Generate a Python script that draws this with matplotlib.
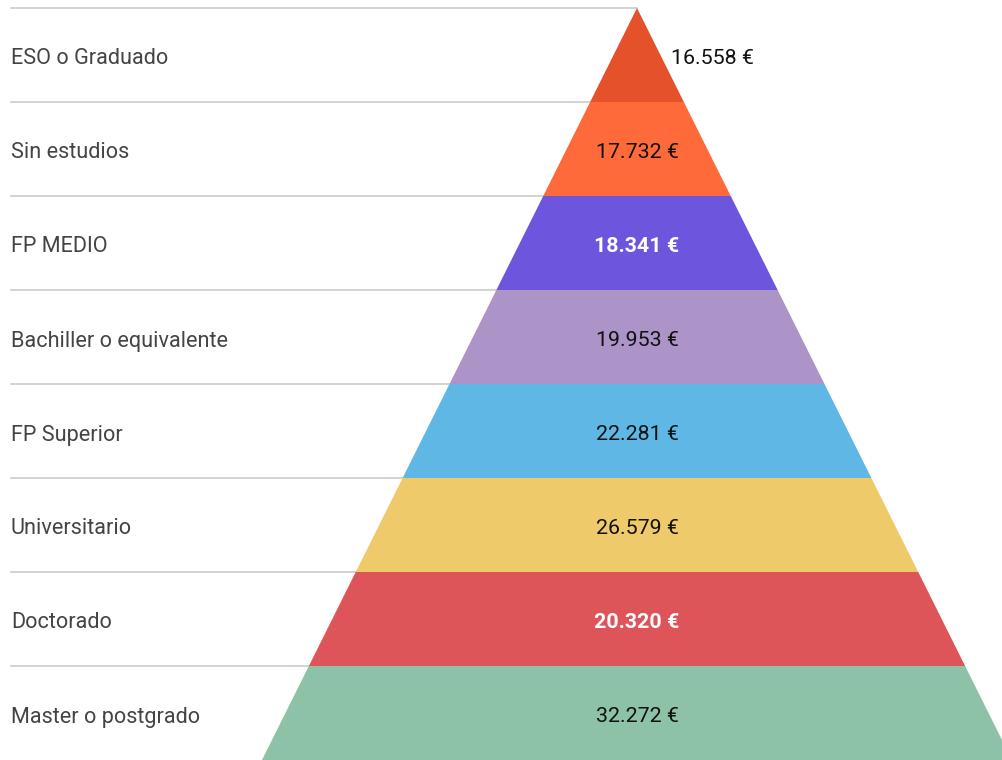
import matplotlib
matplotlib.use("Agg")
import matplotlib.pyplot as plt
from matplotlib.patches import Polygon

categories = ["ESO o Graduado", "Sin estudios", "FP MEDIO", "Bachiller o equivalente",
              "FP Superior", "Universitario", "Doctorado", "Master o postgrado"]
values = [16558, 17732, 18341, 19953, 22281, 26579, 20320, 32272]
value_labels = ["16.558 €", "17.732 €", "18.341 €", "19.953 €",
                "22.281 €", "26.579 €", "20.320 €", "32.272 €"]
colors = ["#E5512A", "#FF6A3A", "#6E55DD", "#AC93C8",
          "#5EB7E5", "#EECA6A", "#DD5558", "#8DC2A7"]
text_colors = ["#111111", "#111111", "#FFFFFF", "#111111",
               "#111111", "#111111", "#FFFFFF", "#111111"]

W, H = 1003, 760
fig = plt.figure(figsize=(W / 100, H / 100), dpi=100)
ax = fig.add_axes([0, 0, 1, 1])
ax.set_xlim(0, W)
ax.set_ylim(H, 0)
ax.axis("off")

apex_x, apex_y = 637.0, 8.0
bottom_y = 760.0
half_bottom = 375.0
n = len(categories)
row_h = (bottom_y - apex_y) / n


def half_w(y):
    return (y - apex_y) * half_bottom / (bottom_y - apex_y)


for i, (cat, lab, col, tc) in enumerate(zip(categories, value_labels, colors, text_colors)):
    y0 = apex_y + i * row_h
    y1 = y0 + row_h
    w0, w1 = half_w(y0), half_w(y1)
    poly = Polygon([(apex_x - w0, y0), (apex_x + w0, y0),
                    (apex_x + w1, y1), (apex_x - w1, y1)],
                   closed=True, facecolor=col, edgecolor="none", zorder=2)
    ax.add_patch(poly)
    ax.plot([11, apex_x - w0], [y0, y0], color="#CCCCCC", lw=1.2, zorder=1)
    yb = (y0 + y1) / 2 + 9.5
    ax.text(11, yb, cat, ha="left", va="baseline", fontsize=15.6, family="Roboto",
            color="#444444", zorder=3)
    if i == 0:
        ax.text(671, yb, lab, ha="left", va="baseline", fontsize=15.4, family="Roboto",
                color=tc, zorder=3)
    else:
        ax.text(apex_x, yb, lab, ha="center", va="baseline", fontsize=15.4, family="Roboto",
                color=tc, fontweight="bold" if tc == "#FFFFFF" else "normal", zorder=3)

fig.savefig("out.png", dpi=100)
